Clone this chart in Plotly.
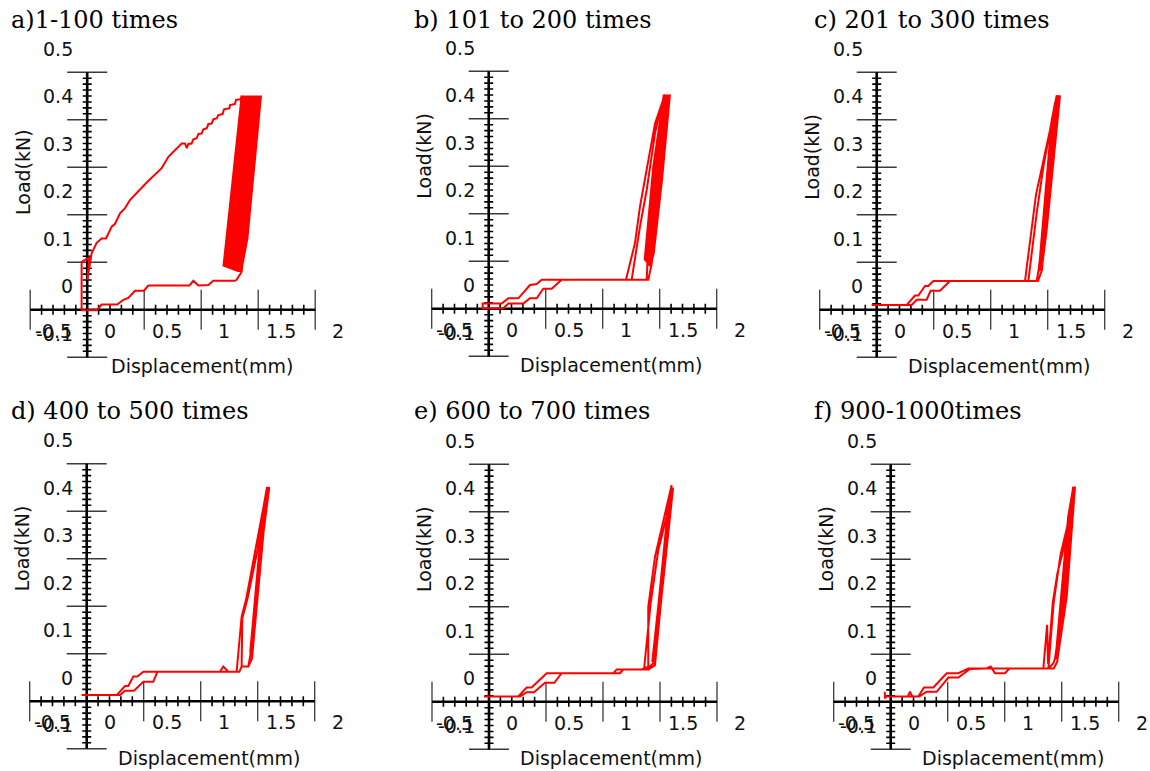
import numpy as np
import plotly.graph_objects as go

# ---------------- data (displacement mm, load kN) ----------------
panel_titles = ["a)1-100 times", "b) 101 to 200 times", "c) 201 to 300 times",
                "d) 400 to 500 times", "e) 600 to 700 times", "f) 900-1000times"]

x_label_vals = [-0.5, 0, 0.5, 1, 1.5, 2]
x_label_text = ["-0.5", "0", "0.5", "1", "1.5", "2"]
y_label_vals = [0.5, 0.4, 0.3, 0.2, 0.1, 0, -0.1]
y_label_text = ["0.5", "0.4", "0.3", "0.2", "0.1", "0", "-0.1"]

# panel a
a_disp = [-0.249, -0.249, -0.181, -0.199,
          -0.161, -0.117, -0.073, -0.035, 0.015, 0.044, 0.088, 0.132, 0.175, 0.322, 0.453, 0.512,
          0.629, 0.658, 0.673, 0.687, 0.716, 0.731, 0.760, 0.775, 0.804, 0.819, 0.848, 0.863,
          0.892, 0.906, 0.936, 0.950, 0.988, 1.000, 1.047, 1.053, 1.096, 1.105, 1.146, 1.155]
a_load = [-0.051, 0.051, 0.060, 0.013,
          0.069, 0.091, 0.100, 0.100, 0.125, 0.131, 0.153, 0.164, 0.181, 0.218, 0.248, 0.272,
          0.300, 0.300, 0.290, 0.299, 0.300, 0.309, 0.311, 0.320, 0.321, 0.330, 0.332, 0.341,
          0.342, 0.351, 0.353, 0.360, 0.362, 0.372, 0.374, 0.381, 0.383, 0.392, 0.393, 0.401]
a_cyc_disp = [0.995, 1.050, 1.165, 1.006, 1.061, 1.176, 1.017, 1.072, 1.187, 1.028, 1.083, 1.198,
              1.039, 1.094, 1.209, 1.050, 1.105, 1.220, 1.061, 1.116, 1.231, 1.072, 1.127, 1.242,
              1.083, 1.138, 1.253, 1.094, 1.149, 1.264, 1.105, 1.160, 1.275, 1.116, 1.171, 1.286,
              1.127, 1.182, 1.297, 1.138, 1.193, 1.308, 1.150, 1.205, 1.325]
a_cyc_load = [0.041, 0.100, 0.401, 0.040, 0.100, 0.401, 0.039, 0.100, 0.401, 0.038, 0.100, 0.401,
              0.037, 0.100, 0.401, 0.036, 0.100, 0.401, 0.035, 0.100, 0.401, 0.034, 0.100, 0.401,
              0.033, 0.100, 0.401, 0.032, 0.100, 0.401, 0.031, 0.100, 0.401, 0.030, 0.100, 0.401,
              0.030, 0.100, 0.401, 0.030, 0.100, 0.401, 0.030, 0.100, 0.401]
a_ret_disp = [1.155, 1.111, 1.096, 0.906, 0.863, 0.775, 0.731, 0.696, 0.336, 0.298, 0.219,
              0.161, 0.117, 0.064, -0.073, -0.117, -0.249]
a_ret_load = [0.030, 0.013, 0.011, 0.011, 0.002, 0.001, 0.011, 0.001, 0.001, -0.010, -0.010,
              -0.025, -0.029, -0.039, -0.039, -0.051, -0.051]

# panel b
b_disp = [-0.101, -0.253, -0.253, -0.072, -0.028, 0.104, 0.162, 0.221, 0.279, 0.352, 0.440,
          1.004, 1.083, 1.127, 1.259, 1.303, 1.346, 1.303, 1.259, 1.186, 1.127, 1.054, 1.186]
b_load = [-0.039, -0.039, -0.049, -0.049, -0.039, -0.039, -0.028, -0.028, -0.008, -0.008, 0.011,
          0.011, 0.088, 0.165, 0.340, 0.372, 0.401, 0.368, 0.319, 0.200, 0.123, 0.011, 0.011]
b_cyc_disp = [1.198, 1.268, 1.336, 1.244,
              1.168, 1.200, 1.272, 1.342, 1.252,
              1.176, 1.208, 1.280, 1.350, 1.260,
              1.184, 1.216, 1.288, 1.358, 1.268,
              1.192, 1.224, 1.296, 1.366, 1.276,
              1.200, 1.232, 1.304, 1.374, 1.284,
              1.208, 1.240, 1.312, 1.382, 1.292,
              1.216, 1.248, 1.320, 1.390, 1.300]
b_cyc_load = [0.080, 0.221, 0.401, 0.250,
              0.052, 0.080, 0.221, 0.401, 0.250,
              0.050, 0.078, 0.221, 0.401, 0.250,
              0.047, 0.075, 0.221, 0.401, 0.250,
              0.045, 0.073, 0.221, 0.401, 0.250,
              0.043, 0.071, 0.221, 0.401, 0.250,
              0.041, 0.069, 0.221, 0.401, 0.250,
              0.039, 0.067, 0.221, 0.401, 0.250]
b_ret_disp = [1.230, 1.200, 0.265, 0.221, 0.162, 0.060, -0.028, -0.086, -0.101]
b_ret_load = [0.045, 0.011, 0.011, 0.002, 0.000, -0.028, -0.028, -0.039, -0.039]

# panel c
c_disp = [-0.244, 0.107, 0.151, 0.238, 0.273, 0.355, 0.443, 1.101, 1.197, 1.320, 1.364, 1.393,
          1.349, 1.262, 1.203, 1.130, 1.203]
c_load = [-0.040, -0.040, -0.029, -0.029, -0.010, -0.010, 0.0105, 0.0105, 0.192, 0.328, 0.385,
          0.401, 0.364, 0.251, 0.153, 0.0105, 0.0105]
c_cyc_disp = [1.218, 1.262, 1.335, 1.379, 1.335, 1.222, 1.266, 1.339, 1.383, 1.339,
              1.227, 1.271, 1.344, 1.388, 1.344, 1.232, 1.276, 1.349, 1.393, 1.349,
              1.237, 1.281, 1.354, 1.398, 1.354, 1.242, 1.286, 1.359, 1.403, 1.359,
              1.247, 1.291, 1.364, 1.408, 1.364]
c_cyc_load = [0.030, 0.118, 0.293, 0.401, 0.349, 0.031, 0.118, 0.293, 0.401, 0.349,
              0.032, 0.118, 0.293, 0.401, 0.349, 0.033, 0.118, 0.293, 0.401, 0.349,
              0.033, 0.118, 0.293, 0.401, 0.349, 0.034, 0.118, 0.293, 0.401, 0.349,
              0.034, 0.118, 0.293, 0.401, 0.349]
c_ret_disp = [1.250, 1.215, 0.297, 0.253, 0.224, 0.165, 0.136, 0.063, -0.244]
c_ret_load = [0.034, 0.0105, 0.0105, 0.0, 0.0, -0.020, -0.020, -0.040, -0.040]

# panel d
d_disp = [-0.244, 0.092, 0.136, 0.215, 0.297, 0.384, 0.420, 0.969, 0.998, 1.042, 1.115, 1.121,
          1.159, 1.197, 1.291, 1.379, 1.300, 1.210, 1.165, 1.159, 1.159, 1.218, 1.238]
d_load = [-0.037, -0.037, -0.028, -0.028, -0.009, -0.009, 0.012, 0.012, 0.023, 0.012, 0.012,
          0.030, 0.128, 0.163, 0.283, 0.395, 0.270, 0.165, 0.125, 0.030, 0.023, 0.023, 0.051]
d_cyc_disp = [1.311, 1.386, 1.356, 1.240, 1.315, 1.392, 1.362, 1.244, 1.319, 1.397, 1.367,
              1.234, 1.309, 1.382, 1.352, 1.246, 1.321, 1.399, 1.369, 1.248, 1.323, 1.402, 1.372]
d_cyc_load = [0.254, 0.401, 0.360, 0.048, 0.254, 0.401, 0.360, 0.046, 0.254, 0.401, 0.360,
              0.052, 0.254, 0.401, 0.360, 0.045, 0.254, 0.401, 0.360, 0.044, 0.254, 0.401, 0.360]
d_ret_disp = [1.250, 1.218, 1.159, 1.139, 0.297, 0.244, 0.209, 0.165, 0.136, 0.063, -0.244]
d_ret_load = [0.040, 0.023, 0.023, 0.012, 0.012, 0.002, 0.002, -0.018, -0.018, -0.037, -0.037]

# panel e
e_disp = [-0.244, 0.072, 0.130, 0.195, 0.291, 0.373, 0.437, 0.891, 0.920, 1.139, 1.197, 1.197,
          1.256, 1.329, 1.402, 1.358, 1.285, 1.218, 1.160, 1.183, 1.241]
e_load = [-0.039, -0.039, -0.030, -0.030, -0.010, -0.010, 0.010, 0.010, 0.018, 0.018, 0.024,
          0.150, 0.255, 0.333, 0.406, 0.340, 0.269, 0.157, 0.018, 0.018, 0.031]
e_cyc_disp = [1.331, 1.406, 1.376, 1.232, 1.322, 1.397, 1.367, 1.236, 1.326, 1.401, 1.371,
              1.245, 1.335, 1.410, 1.380, 1.250, 1.340, 1.415, 1.385]
e_cyc_load = [0.230, 0.401, 0.350, 0.034, 0.230, 0.401, 0.350, 0.033, 0.230, 0.401, 0.350,
              0.031, 0.230, 0.401, 0.350, 0.029, 0.230, 0.401, 0.350]
e_ret_disp = [1.256, 1.200, 0.978, 0.949, 0.306, 0.174, 0.130, 0.057, -0.244]
e_ret_load = [0.027, 0.018, 0.018, 0.010, 0.010, -0.020, -0.020, -0.039, -0.039]

# panel f
f_disp = [-0.252, -0.250, -0.240, -0.050, -0.031, -0.010, 0.051, 0.115, 0.203, 0.306, 0.393,
          0.496, 0.642, 0.677, 0.715, 0.803, 0.841, 1.139, 1.172, 1.180, 1.221, 1.262, 1.329,
          1.402, 1.360, 1.290, 1.230, 1.190, 1.183, 1.227]
f_load = [-0.029, -0.043, -0.039, -0.039, -0.029, -0.039, -0.039, -0.029, -0.029, 0.001, 0.001,
          0.019, 0.020, 0.024, 0.010, 0.010, 0.020, 0.020, 0.112, 0.030, 0.157, 0.220, 0.284,
          0.403, 0.330, 0.260, 0.160, 0.040, 0.020, 0.031]
f_cyc_disp = [1.241, 1.321, 1.401, 1.357, 1.246, 1.326, 1.406, 1.362, 1.251, 1.331, 1.411, 1.367,
              1.256, 1.336, 1.414, 1.372, 1.262, 1.344, 1.417, 1.375]
f_cyc_load = [0.041, 0.171, 0.401, 0.340, 0.040, 0.171, 0.401, 0.340, 0.039, 0.171, 0.401, 0.340,
              0.039, 0.171, 0.401, 0.340, 0.038, 0.171, 0.403, 0.340]
f_ret_disp = [1.262, 1.230, 0.481, 0.393, 0.291, 0.174, 0.092, 0.042, -0.250]
f_ret_load = [0.035, 0.020, 0.020, 0.010, 0.010, -0.020, -0.020, -0.039, -0.039]

panels_disp = [a_disp + a_cyc_disp + a_ret_disp,
               b_disp + b_cyc_disp + b_ret_disp,
               c_disp + c_cyc_disp + c_ret_disp,
               d_disp + d_cyc_disp + d_ret_disp,
               e_disp + e_cyc_disp + e_ret_disp,
               f_disp + f_cyc_disp + f_ret_disp]
panels_load = [a_load + a_cyc_load + a_ret_load,
               b_load + b_cyc_load + b_ret_load,
               c_load + c_cyc_load + c_ret_load,
               d_load + d_cyc_load + d_ret_load,
               e_load + e_cyc_load + e_ret_load,
               f_load + f_cyc_load + f_ret_load]

# ---------------- layout geometry ----------------
W, H = 1150, 771
SX, SY = 114.0, 475.0            # px per mm, px per kN
XR = [-0.8, 2.05]
YR = [-0.19, 0.56]
origin_px = [(110, 286), (511.5, 285), (899.5, 286), (109.5, 677.5), (511.8, 678), (913.5, 678)]
title_px = [(9, 20), (412, 20), (812, 20), (9, 411), (412, 411), (812, 411)]
loadlbl_y = [0.241, 0.272, 0.272, 0.272, 0.272, 0.272]
displbl_x = [0.806, 0.873, 0.873, 0.873, 0.873, 0.873]

AX_X0, AX_X1, AX_Y = -0.7, 1.8, -0.05     # horizontal axis line
AY_Y0, AY_Y1, AY_X = -0.15, 0.45, -0.2    # vertical axis line
x_major = [-0.7, 0.3, 0.8, 1.3, 1.8]
x_minor = [v for v in np.round(np.arange(-0.7, 1.8001, 0.1), 4) if min(abs(v - m) for m in x_major + [-0.2]) > 1e-6]
y_major = [-0.15, 0.05, 0.15, 0.25, 0.35, 0.45]
y_minor = [v for v in np.round(np.arange(-0.15, 0.4501, 0.0125), 5) if min(abs(v - m) for m in y_major + [-0.05]) > 1e-6]

MAJ_X_HALF = 20 / SY
MIN_X_HALF = 5 / SY
MAJ_Y_HALF = 20 / SX
MIN_Y_HALF = 4.5 / SX
LBL_FONT = dict(family="DejaVu Sans", size=19, color="#111")

fig = go.Figure()
annotations = []
layout_axes = {}

for i in range(6):
    n = "" if i == 0 else str(i + 1)
    xa, ya = "x" + n, "y" + n
    ox, oy = origin_px[i]
    xd = [max(0.0, (ox + XR[0] * SX) / W), min(1.0, (ox + XR[1] * SX) / W)]
    xr = [(xd[0] * W - ox) / SX, (xd[1] * W - ox) / SX]
    yd = [max(0.0, (H - (oy - YR[0] * SY)) / H), min(1.0, (H - (oy - YR[1] * SY)) / H)]
    yr = [(oy - (H - yd[0] * H)) / SY, (oy - (H - yd[1] * H)) / SY]
    layout_axes["xaxis" + n] = dict(domain=xd, range=xr, visible=False, fixedrange=True, anchor=ya)
    layout_axes["yaxis" + n] = dict(domain=yd, range=yr, visible=False, fixedrange=True, anchor=xa)

    mx, my = [], []
    for v in x_major:
        mx += [v, v, None]; my += [AX_Y - MAJ_X_HALF, AX_Y + MAJ_X_HALF, None]
    for v in y_major:
        mx += [AY_X - MAJ_Y_HALF, AY_X + MAJ_Y_HALF, None]; my += [v, v, None]
    fig.add_trace(go.Scatter(x=mx, y=my, mode="lines", line=dict(color="#3a3a3a", width=1.3),
                             xaxis=xa, yaxis=ya, hoverinfo="skip", showlegend=False))
    nx, ny = [], []
    for v in x_minor:
        nx += [v, v, None]; ny += [AX_Y - MIN_X_HALF, AX_Y + MIN_X_HALF, None]
    for v in y_minor:
        nx += [AY_X - MIN_Y_HALF, AY_X + MIN_Y_HALF, None]; ny += [v, v, None]
    fig.add_trace(go.Scatter(x=nx, y=ny, mode="lines", line=dict(color="black", width=1.6),
                             xaxis=xa, yaxis=ya, hoverinfo="skip", showlegend=False))
    fig.add_trace(go.Scatter(x=[AX_X0, AX_X1, None, AY_X, AY_X], y=[AX_Y, AX_Y, None, AY_Y0, AY_Y1],
                             mode="lines", line=dict(color="black", width=2.6),
                             xaxis=xa, yaxis=ya, hoverinfo="skip", showlegend=False))
    fig.add_trace(go.Scatter(x=panels_disp[i], y=panels_load[i], mode="lines",
                             line=dict(color="#ff0000", width=2),
                             xaxis=xa, yaxis=ya, showlegend=False))

    for v, t in zip(x_label_vals, x_label_text):
        annotations.append(dict(x=v, y=-0.094, xref=xa, yref=ya, text=t, showarrow=False,
                                xanchor="center", yanchor="middle", font=LBL_FONT))
    for v, t in zip(y_label_vals, y_label_text):
        annotations.append(dict(x=-0.305, y=v, xref=xa, yref=ya, text=t, showarrow=False,
                                xanchor="right", yanchor="middle", font=LBL_FONT))
    annotations.append(dict(x=-0.768, y=loadlbl_y[i], xref=xa, yref=ya, text="Load(kN)",
                            showarrow=False, textangle=-90, xanchor="center", yanchor="middle",
                            font=LBL_FONT))
    annotations.append(dict(x=displbl_x[i], y=-0.169, xref=xa, yref=ya, text="Displacement(mm)",
                            showarrow=False, xanchor="center", yanchor="middle", font=LBL_FONT))
    tx, ty = title_px[i]
    annotations.append(dict(x=tx / W, y=1 - ty / H, xref="paper", yref="paper", text=panel_titles[i],
                            showarrow=False, xanchor="left", yanchor="middle",
                            font=dict(family="DejaVu Serif", size=24, color="black")))

fig.update_layout(width=W, height=H, margin=dict(l=0, r=0, t=0, b=0),
                  paper_bgcolor="white", plot_bgcolor="rgba(0,0,0,0)",
                  annotations=annotations, **layout_axes)

# remove the page's default body margin so the 1150x771 figure fills the window exactly
fig.write_html("out.html", config={"displayModeBar": False},
               post_script="document.body.style.margin='0';document.body.style.overflow='hidden';")
